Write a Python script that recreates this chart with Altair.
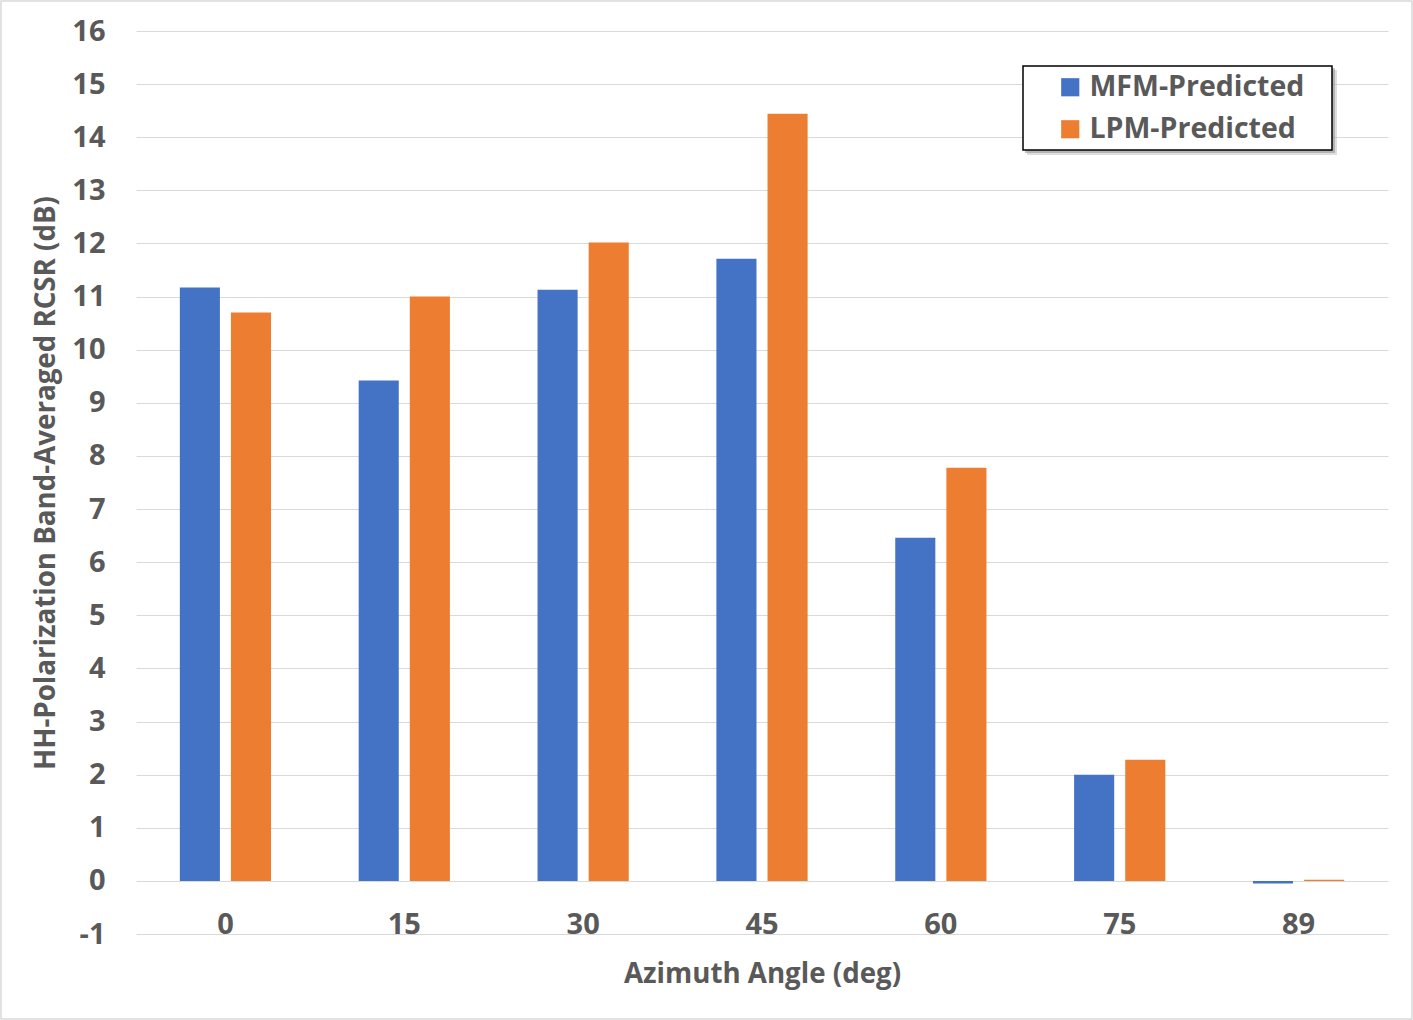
import altair as alt
import pandas as pd

angles = ["0", "15", "30", "45", "60", "75", "89"]
mfm = [11.17, 9.42, 11.13, 11.71, 6.46, 2.0, -0.05]
lpm = [10.70, 11.0, 12.02, 14.44, 7.78, 2.28, 0.02]
series = ["MFM-Predicted", "LPM-Predicted"]
colors = ["#4472C4", "#ED7D31"]
y_ticks = list(range(-1, 17))

rows = []
for a, m, l in zip(angles, mfm, lpm):
    rows.append({"angle": a, "series": series[0], "value": m})
    rows.append({"angle": a, "series": series[1], "value": l})
df = pd.DataFrame(rows)

W, H = 1252, 903
FONT = "Open Sans"
GRAY = "#595959"

one = pd.DataFrame({"k": [0]})

outer = alt.Chart(one).mark_rect(fill=None, stroke="#d9d9d9", strokeWidth=1.5).encode(
    x=alt.value(-135), x2=alt.value(W + 24), y=alt.value(-30), y2=alt.value(H + 85)
)
shadow1 = alt.Chart(one).mark_rect(fill="#bdbdbd", opacity=0.5).encode(
    x=alt.value(891), x2=alt.value(1201), y=alt.value(39), y2=alt.value(124)
)
shadow2 = alt.Chart(one).mark_rect(fill="#8a8a8a", opacity=0.5).encode(
    x=alt.value(889), x2=alt.value(1199), y=alt.value(37), y2=alt.value(122)
)
legbox = alt.Chart(one).mark_rect(fill="white", stroke="black", strokeWidth=1.5).encode(
    x=alt.value(887), x2=alt.value(1196), y=alt.value(35), y2=alt.value(119)
)

bars = alt.Chart(df).mark_bar().encode(
    x=alt.X("angle:N", sort=angles,
            scale=alt.Scale(paddingInner=0.49, paddingOuter=0.245),
            axis=alt.Axis(title="Azimuth Angle (deg)", labelAngle=0, domain=False, ticks=False,
                          labelBaseline="alphabetic", labelPadding=-1, titlePadding=21)),
    xOffset=alt.XOffset("series:N", sort=series,
                        scale=alt.Scale(paddingInner=0.216, paddingOuter=0)),
    y=alt.Y("value:Q", scale=alt.Scale(domain=[-1, 16], nice=False, zero=False),
            axis=alt.Axis(title="HH-Polarization Band-Averaged RCSR (dB)", values=y_ticks,
                          labelExpr="'' + datum.value",
                          domain=False, ticks=False, labelPadding=31, titlePadding=11,
                          gridColor="#d9d9d9", gridWidth=1)),
    color=alt.Color("series:N", sort=series,
                    scale=alt.Scale(domain=series, range=colors),
                    legend=alt.Legend(title=None, orient="none", legendX=920, legendY=42,
                                      padding=0, symbolOffset=0,
                                      symbolType="square", symbolSize=330,
                                      symbolStrokeWidth=0, rowPadding=13, labelOffset=5,
                                      labelLimit=400)),
)

chart = alt.layer(outer, shadow1, shadow2, legbox, bars).properties(
    width=W, height=H,
    autosize=alt.AutoSizeParams(type="none"),
    padding={"left": 136, "top": 31, "right": 25, "bottom": 86},
).configure_view(stroke=None).configure_axis(
    labelFont=FONT, labelFontSize=29, labelFontWeight="bold", labelColor=GRAY,
    titleFont=FONT, titleFontSize=27.7, titleFontWeight="bold", titleColor=GRAY,
    grid=True,
).configure_axisX(grid=False).configure_legend(
    labelFont=FONT, labelFontSize=28.5, labelFontWeight="bold", labelColor=GRAY,
)

chart.save("out.html", embed_options={"renderer": "svg", "actions": False})
